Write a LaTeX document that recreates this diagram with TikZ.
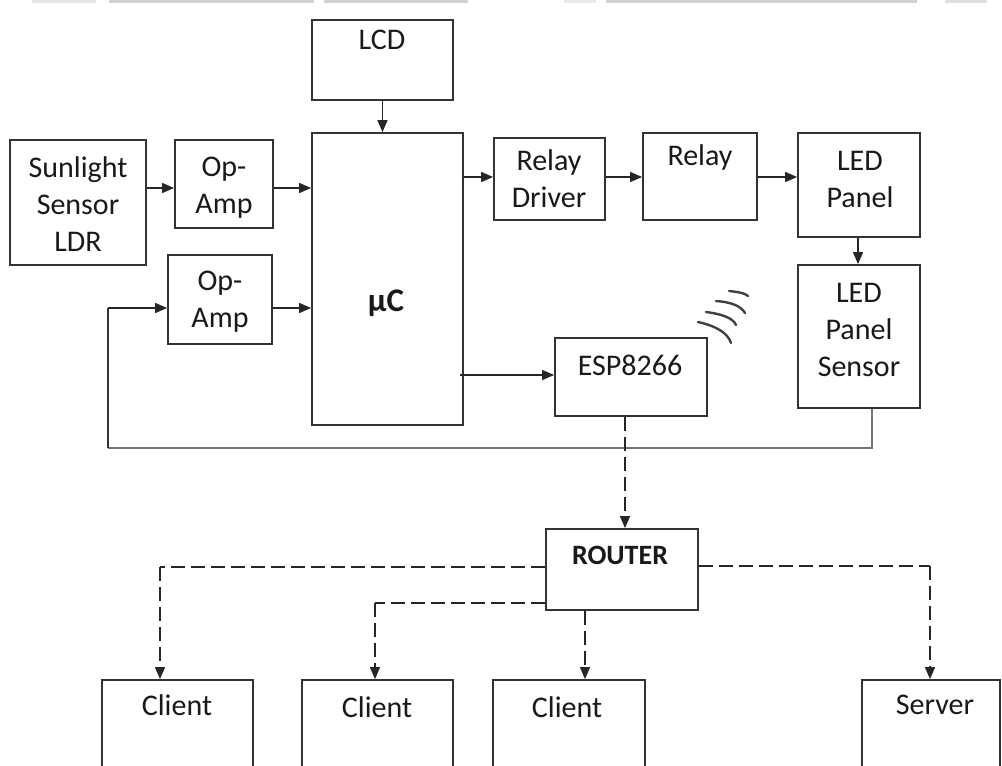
\documentclass[tikz,border=0pt]{standalone}
\usepackage{fontspec}
\setmainfont{Carlito}
\usetikzlibrary{arrows.meta}
\tikzset{
  box/.style={draw=black!80, line width=1.8pt, inner sep=0pt, fill=white},
  txt/.style={align=center, inner sep=0pt, text=black!90, font=\fontsize{30}{37}\selectfont},
  btxt/.style={align=center, inner sep=0pt, text=black!90, font=\fontsize{30}{37}\selectfont\bfseries},
  arr/.style={-{Triangle[length=12pt,width=10pt]}, line width=1.5pt, draw=black!85},
  darr/.style={-{Triangle[length=12pt,width=10pt]}, line width=1.5pt, draw=black!85, dash pattern=on 14pt off 6pt},
  dline/.style={line width=1.5pt, draw=black!85, dash pattern=on 14pt off 6pt},
  fb/.style={line width=2.6pt, draw=black!55},
  wave/.style={line width=2.4pt, draw=black!75, line cap=round},
  topbar/.style={fill=black!18, draw=none}
}
\begin{document}
\begin{tikzpicture}[x=1pt,y=-1pt]
\useasboundingbox (0,0) rectangle (1002,766);
\clip (0,0) rectangle (1002,766);
% faint strips at the top edge
\fill[topbar, fill=black!10] (32,0) rectangle (96,3);
\fill[topbar] (109,0) rectangle (314,3);
\fill[topbar] (324,0) rectangle (468,3);
\fill[topbar, fill=black!8] (564,0) rectangle (596,3);
\fill[topbar] (606,0) rectangle (917,3);
\fill[topbar, fill=black!12] (945,0) rectangle (987,3);

% boxes
\node[box, minimum width=141pt, minimum height=80pt] (lcd) at (382.5,60) {};
\node[box, minimum width=151pt, minimum height=292pt] (mc) at (387.5,279) {};
\node[box, minimum width=136pt, minimum height=125pt] (ldr) at (78,202.5) {};
\node[box, minimum width=98pt, minimum height=88pt] (oa1) at (224,184) {};
\node[box, minimum width=104pt, minimum height=89pt] (oa2) at (220,299.5) {};
\node[box, minimum width=111pt, minimum height=82pt] (rd) at (549.5,179) {};
\node[box, minimum width=114pt, minimum height=87pt] (relay) at (700,176.5) {};
\node[box, minimum width=122pt, minimum height=104pt] (ledp) at (859,185) {};
\node[box, minimum width=122pt, minimum height=143pt] (leds) at (859,336.5) {};
\node[box, minimum width=152pt, minimum height=78pt] (esp) at (631,377) {};
\node[box, minimum width=152pt, minimum height=81pt] (router) at (622,569.5) {};
\node[box, minimum width=151pt, minimum height=120pt] (c1) at (177.5,740) {};
\node[box, minimum width=151pt, minimum height=120pt] (c2) at (377.5,740) {};
\node[box, minimum width=152pt, minimum height=120pt] (c3) at (569,740) {};
\node[box, minimum width=138pt, minimum height=120pt] (srv) at (931,740) {};

% texts
\node[txt] (lcdt) at (382,40) {LCD};
\node[btxt, font=\fontsize{33}{37}\selectfont\bfseries] (mct) at (386,303) {μC};
\node[txt] (ldrt) at (78,204) {Sunlight\\Sensor\\LDR};
\node[txt] (oa1t) at (224,188) {Op-\\Amp};
\node[txt] (oa2t) at (220,302) {Op-\\Amp};
\node[txt] (rdt) at (549,179) {Relay\\Driver};
\node[txt] (relayt) at (700,157) {Relay};
\node[txt] (ledpt) at (860,179) {LED\\Panel};
\node[txt] (ledst) at (859,330) {LED\\Panel\\Sensor};
\node[txt] (espt) at (630,365) {ESP8266};
\node[btxt, font=\fontsize{28}{34}\selectfont\bfseries] (routert) at (620,555) {ROUTER};
\node[txt] (c1t) at (177,705) {Client};
\node[txt] (c2t) at (377,707) {Client};
\node[txt] (c3t) at (567,707) {Client};
\node[txt] (srvt) at (935,705) {Server};

% solid connectors
\draw[arr] (lcd.south) -- (lcd.south |- mc.north);
\draw[arr] (ldr.east |- 0,188) -- (oa1.west |- 0,188);
\draw[arr] (oa1.east |- 0,188) -- (mc.west |- 0,188);
\draw[arr] (oa2.east |- 0,308) -- (mc.west |- 0,308);
\draw[arr] (mc.east |- 0,177) -- (rd.west |- 0,177);
\draw[arr] (rd.east |- 0,177) -- (relay.west |- 0,177);
\draw[arr] (relay.east |- 0,177) -- (ledp.west |- 0,177);
\draw[arr] (ledp.south -| 858,0) -- (leds.north -| 858,0);
\draw[arr] (460,375) -- (esp.west |- 0,375);

% feedback loop
\coordinate (fbA) at (872,448);
\coordinate (fbB) at (108,448);
\coordinate (fbC) at (108,308);
\draw[fb] (leds.south -| fbA) -- (fbA) -- (fbB);
\draw[line width=1.8pt, draw=black!80] (fbB) -- (fbC);
\draw[arr] (fbC) -- (oa2.west |- fbC);

% wireless symbol
\draw[wave] (698,322) .. controls (716,326) and (728,333) .. (731,343);
\draw[wave] (706,312) .. controls (722,314) and (733,318) .. (736,325);
\draw[wave] (716,301) .. controls (731,302) and (741,306) .. (745,313);
\draw[wave] (729,291) .. controls (738,292) and (745,293) .. (748,296);

% network (dashed)
\draw[darr] (esp.south -| 625,0) -- (router.north -| 625,0);
\coordinate (r1) at (160,567);
\coordinate (r2) at (375,603);
\coordinate (r4) at (930,566);
\draw[dline] (router.west |- r1) -- (r1);
\draw[darr] (r1) -- (c1.north -| r1);
\draw[dline] (router.west |- r2) -- (r2);
\draw[darr] (r2) -- (c2.north -| r2);
\draw[darr] (router.south -| 585,0) -- (c3.north -| 585,0);
\draw[dline] (router.east |- r4) -- (r4);
\draw[darr] (r4) -- (srv.north -| r4);
\end{tikzpicture}
\end{document}
